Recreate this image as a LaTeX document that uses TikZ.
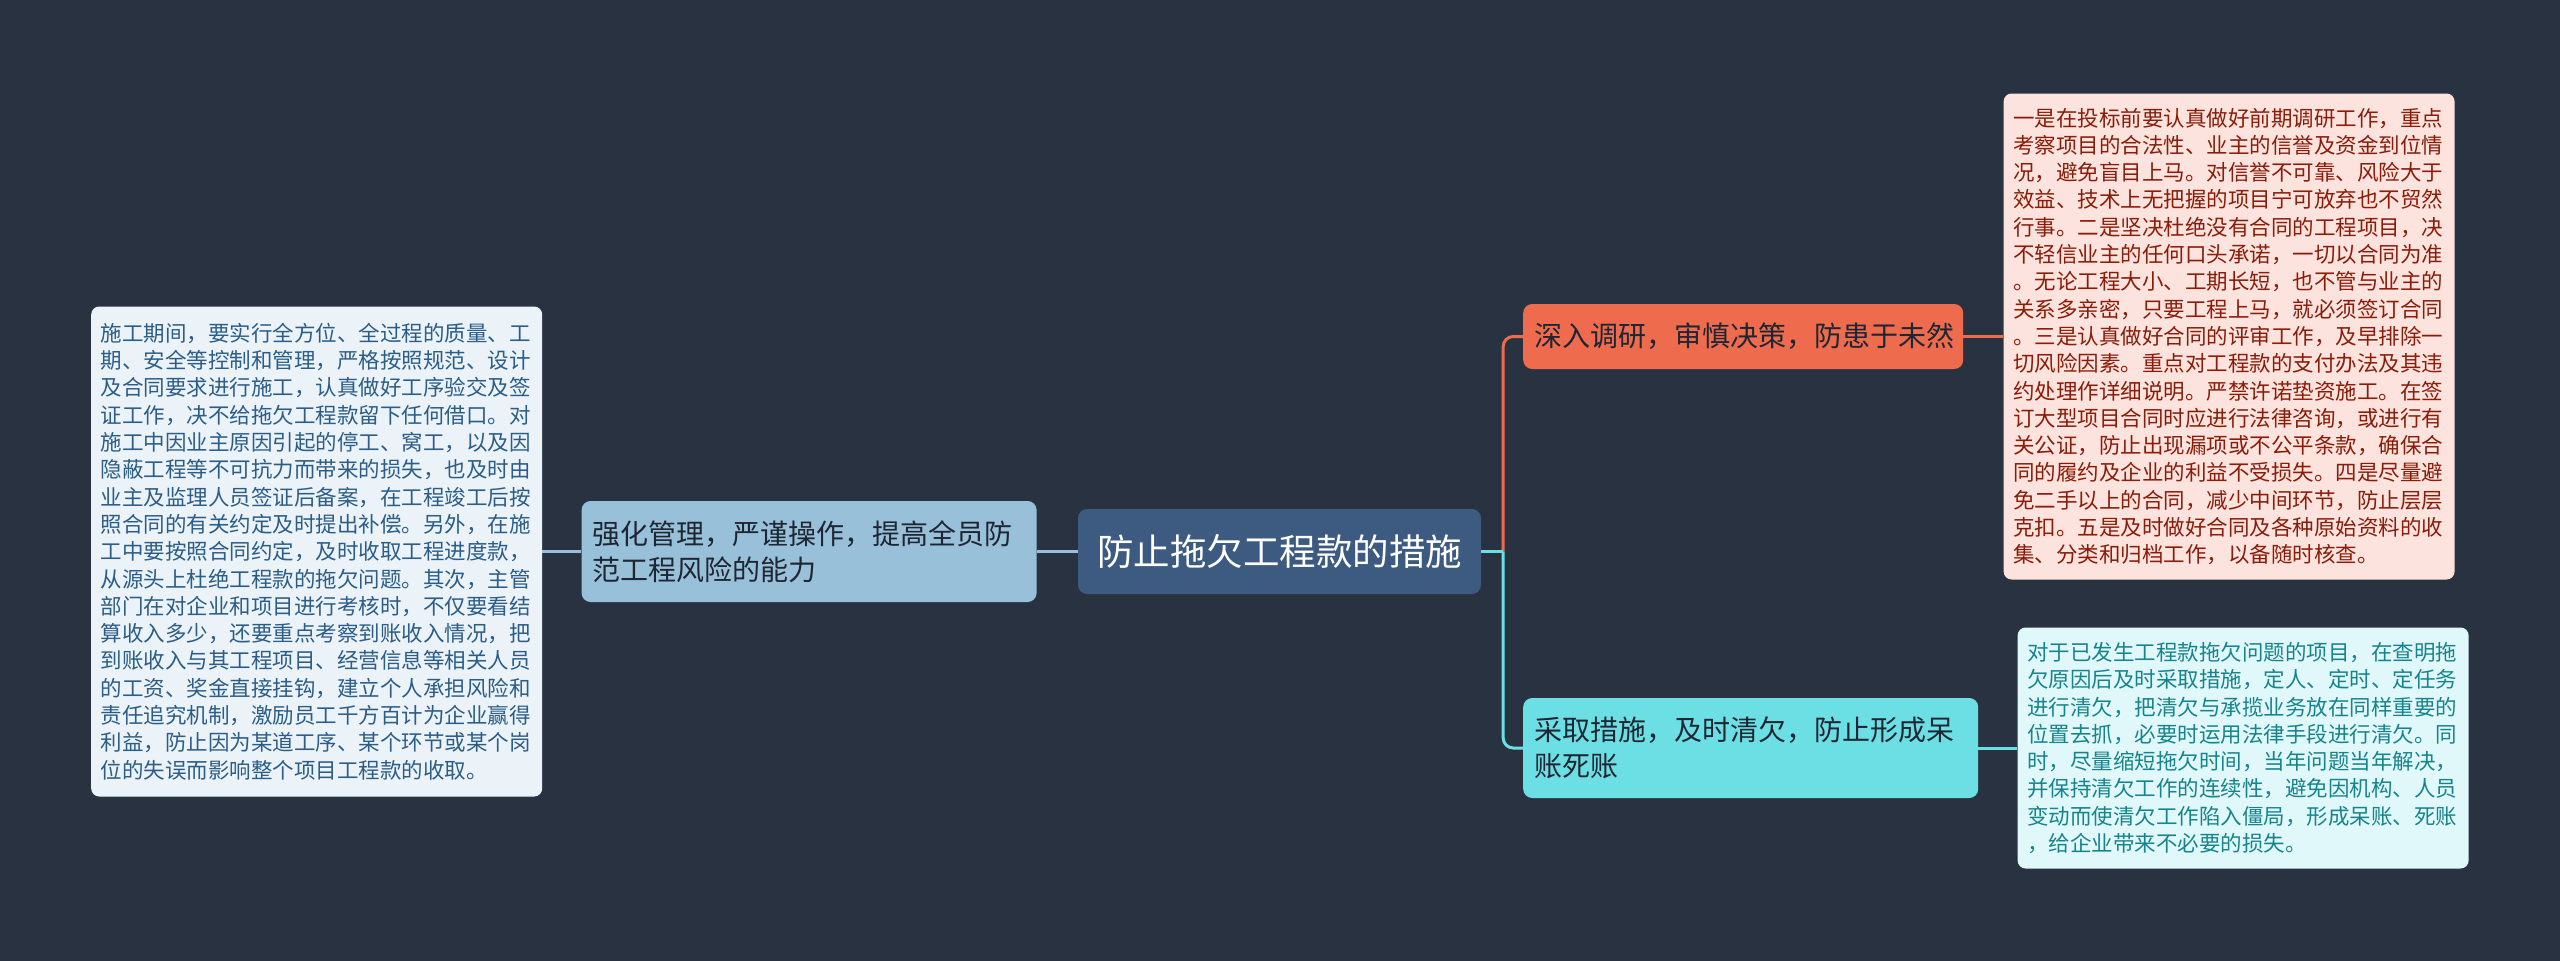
\documentclass[tikz,border=0pt]{standalone}
\usepackage{fontspec}
\setmainfont{Noto Sans CJK SC}
\usepackage{tikz}
\usetikzlibrary{positioning}
\definecolor{bg}{HTML}{293241}
\definecolor{hub}{HTML}{3D5A80}
\definecolor{sky}{HTML}{98C1D9}
\definecolor{skybg}{HTML}{EBF3F9}
\definecolor{skyink}{HTML}{2B5D87}
\definecolor{coral}{HTML}{EE6C4D}
\definecolor{coralbg}{HTML}{FDE3DD}
\definecolor{coralink}{HTML}{8A1C0A}
\definecolor{aqua}{HTML}{6CDFE5}
\definecolor{aquabg}{HTML}{E0F8FA}
\definecolor{aquaink}{HTML}{17848C}
\definecolor{ink}{HTML}{1F2633}
\tikzset{
  hubbox/.style={rectangle,rounded corners=9pt,fill=hub,text=white,align=center,
    minimum width=403pt,minimum height=85pt,inner sep=0pt,font=\fontsize{36.5}{40}\selectfont},
  branch/.style={rectangle,rounded corners=9pt,align=left,inner xsep=11pt,inner ysep=0pt,
    text=ink,font=\fontsize{28}{36}\selectfont},
  leaf/.style={rectangle,rounded corners=8pt,align=left,inner xsep=9.5pt,inner ysep=0pt,
    text width=432pt,font=\fontsize{21.5}{27.3}\selectfont},
  link/.style={line width=3pt},
}
\begin{document}
\begin{tikzpicture}[x=1pt,y=-1pt]
  \fill[bg] (0,0) rectangle (2560,961);
  \node[hubbox] (hub) at (1279.5,551.5) {防止拖欠工程款的措施};
  \node[branch,fill=sky,text width=433pt,minimum height=101pt,left=41pt of hub] (manage)
    {强化管理，严谨操作，提高全员防\\范工程风险的能力};
  \node[leaf,fill=skybg,text=skyink,minimum height=490pt,left=39pt of manage] (manageleaf)
    {施工期间，要实行全方位、全过程的质量、工\\期、安全等控制和管理，严格按照规范、设计\\及合同要求进行施工，认真做好工序验交及签\\证工作，决不给拖欠工程款留下任何借口。对\\施工中因业主原因引起的停工、窝工，以及因\\隐蔽工程等不可抗力而带来的损失，也及时由\\业主及监理人员签证后备案，在工程竣工后按\\照合同的有关约定及时提出补偿。另外，在施\\工中要按照合同约定，及时收取工程进度款，\\从源头上杜绝工程款的拖欠问题。其次，主管\\部门在对企业和项目进行考核时，不仅要看结\\算收入多少，还要重点考察到账收入情况，把\\到账收入与其工程项目、经营信息等相关人员\\的工资、奖金直接挂钩，建立个人承担风险和\\责任追究机制，激励员工千方百计为企业赢得\\利益，防止因为某道工序、某个环节或某个岗\\位的失误而影响整个项目工程款的收取。};
  \node[branch,fill=coral,text width=418pt,minimum height=65pt,anchor=west] (survey) at (1523,336.5)
    {深入调研，审慎决策，防患于未然};
  \node[leaf,fill=coralbg,text=coralink,minimum height=486pt,right=40pt of survey] (surveyleaf)
    {一是在投标前要认真做好前期调研工作，重点\\考察项目的合法性、业主的信誉及资金到位情\\况，避免盲目上马。对信誉不可靠、风险大于\\效益、技术上无把握的项目宁可放弃也不贸然\\行事。二是坚决杜绝没有合同的工程项目，决\\不轻信业主的任何口头承诺，一切以合同为准\\。无论工程大小、工期长短，也不管与业主的\\关系多亲密，只要工程上马，就必须签订合同\\。三是认真做好合同的评审工作，及早排除一\\切风险因素。重点对工程款的支付办法及其违\\约处理作详细说明。严禁许诺垫资施工。在签\\订大型项目合同时应进行法律咨询，或进行有\\关公证，防止出现漏项或不公平条款，确保合\\同的履约及企业的利益不受损失。四是尽量避\\免二手以上的合同，减少中间环节，防止层层\\克扣。五是及时做好合同及各种原始资料的收\\集、分类和归档工作，以备随时核查。};
  \node[branch,fill=aqua,text width=433pt,minimum height=100pt,anchor=west] (clear) at (1523,748)
    {采取措施，及时清欠，防止形成呆\\账死账};
  \node[leaf,fill=aquabg,text=aquaink,minimum height=241pt,right=39pt of clear] (clearleaf)
    {对于已发生工程款拖欠问题的项目，在查明拖\\欠原因后及时采取措施，定人、定时、定任务\\进行清欠，把清欠与承揽业务放在同样重要的\\位置去抓，必要时运用法律手段进行清欠。同\\时，尽量缩短拖欠时间，当年问题当年解决，\\并保持清欠工作的连续性，避免因机构、人员\\变动而使清欠工作陷入僵局，形成呆账、死账\\，给企业带来不必要的损失。};
  \coordinate[right=22pt of hub.east] (fork);
  \draw[link,sky] (manageleaf.east) -- (manage.west);
  \draw[link,sky] (manage.east) -- (hub.west);
  \draw[link,coral,rounded corners=10pt] (fork) |- (survey.west);
  \draw[link,coral] (survey.east) -- (surveyleaf.west);
  \draw[link,aqua] (hub.east) -- (fork);
  \draw[link,aqua,rounded corners=10pt] (fork) |- (clear.west);
  \draw[link,aqua] (clear.east) -- (clearleaf.west);
\end{tikzpicture}
\end{document}
